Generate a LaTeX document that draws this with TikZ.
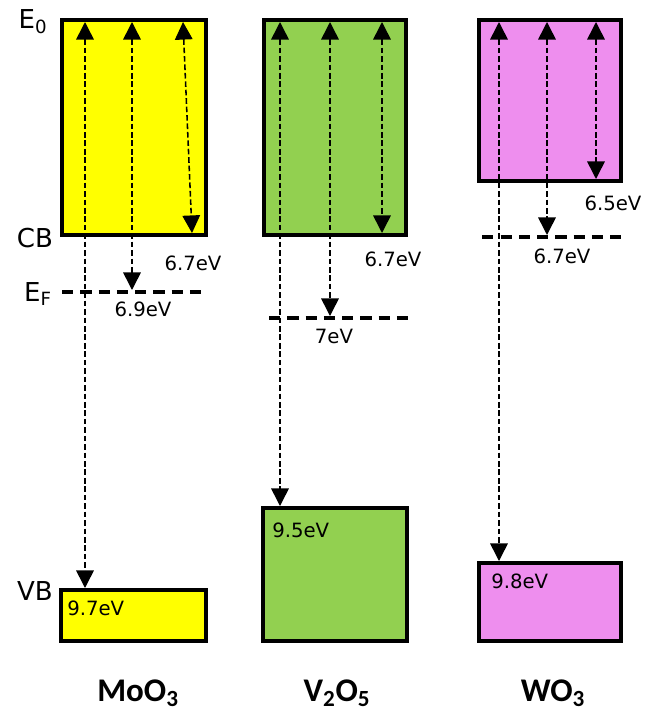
\documentclass[tikz,border=0pt]{standalone}
\usepackage{fontspec}
\setmainfont{DejaVu Sans}
\newfontfamily\oxfont{Carlito}
\usepackage{tikz}
\usetikzlibrary{arrows.meta, fit}
\definecolor{moyellow}{RGB}{255,255,0}
\definecolor{vogreen}{RGB}{146,208,80}
\definecolor{wopink}{RGB}{238,142,238}
\tikzset{
  band/.style={rectangle, draw=black, line width=3.3pt, inner sep=0pt},
  levelline/.style={line width=3.2pt, dash pattern=on 8pt off 5pt},
  transarrow/.style={{Triangle[width=12.5pt,length=12.5pt]}-{Triangle[width=12.5pt,length=12.5pt]},
    line width=1.1pt, dash pattern=on 4pt off 2pt},
  evlabel/.style={font=\fontsize{14}{16}\selectfont, inner sep=0pt},
  axlabel/.style={font=\fontsize{18.5}{21}\selectfont, inner sep=0pt},
  oxlabel/.style={font=\oxfont\bfseries\fontsize{23.5}{27}\selectfont, inner sep=0pt}
}

\begin{document}
\begin{tikzpicture}[x=0.025cm, y=-0.025cm]
  \useasboundingbox (0,0) rectangle (646,711);

  % conduction and valence bands
  \node[band, fill=moyellow, fit={(62,20) (206,235)}] (mocb) {};
  \node[band, fill=moyellow, fit={(61,590) (206,641)}] (movb) {};
  \node[band, fill=vogreen, fit={(264,20) (406,235)}] (vocb) {};
  \node[band, fill=vogreen, fit={(263,508) (407,641)}] (vovb) {};
  \node[band, fill=wopink, fit={(479,20) (621,181)}] (wocb) {};
  \node[band, fill=wopink, fit={(479,563) (621,641)}] (wovb) {};

  % Fermi levels
  \coordinate (moefl) at (62,292);
  \coordinate (moefr) at (208,292);
  \coordinate (voefl) at (269,318);
  \coordinate (voefr) at (410,318);
  \coordinate (woefl) at (478,237);
  \coordinate (woefr) at (623,237);
  \draw[levelline] (moefl) -- (moefr);
  \draw[levelline] (voefl) -- (voefr);
  \draw[levelline, dash phase=10pt] (woefl) -- (woefr);

  % arrow ends
  \coordinate (moa) at (85,22);  \coordinate (moab) at (85,588);
  \coordinate (mob) at (132,22); \coordinate (mobb) at (132,290);
  \coordinate (moc) at (183,22); \coordinate (mocc) at (192,233);
  \coordinate (voa) at (280,22); \coordinate (voab) at (280,506);
  \coordinate (vob) at (330,22); \coordinate (vobb) at (330,316);
  \coordinate (voc) at (382,22); \coordinate (vocc) at (382,233);
  \coordinate (woa) at (499,22); \coordinate (woab) at (499,561);
  \coordinate (wob) at (547,22); \coordinate (wobb) at (547,235);
  \coordinate (woc) at (596,22); \coordinate (wocc) at (596,179);

  \draw[transarrow] (moa) -- (moab);
  \draw[transarrow] (mob) -- (mobb);
  \draw[transarrow] (moc) -- (mocc);
  \draw[transarrow] (voa) -- (voab);
  \draw[transarrow] (vob) -- (vobb);
  \draw[transarrow] (voc) -- (vocc);
  \draw[transarrow] (woa) -- (woab);
  \draw[transarrow] (wob) -- (wobb);
  \draw[transarrow] (woc) -- (wocc);

  % level names
  \node[axlabel] (eo) at (33,22) {E\textsubscript{0}};
  \node[axlabel] (cb) at (35,238) {CB};
  \node[axlabel] (ef) at (38,294) {E\textsubscript{F}};
  \node[axlabel] (vb) at (35,591) {VB};

  % energies
  \node[evlabel] (moe1) at (193,263) {6.7eV};
  \node[evlabel] (moe2) at (143,309) {6.9eV};
  \node[evlabel, anchor=west] (moe3) at (67,608) {9.7eV};
  \node[evlabel] (voe1) at (393,259) {6.7eV};
  \node[evlabel] (voe2) at (334,336) {7eV};
  \node[evlabel, anchor=west] (voe3) at (272,530) {9.5eV};
  \node[evlabel] (woe1) at (613,203) {6.5eV};
  \node[evlabel] (woe2) at (562,256) {6.7eV};
  \node[evlabel, anchor=west] (woe3) at (491,581) {9.8eV};

  % oxides
  \node[oxlabel] (moo) at (138,693) {MoO\textsubscript{3}};
  \node[oxlabel] (voo) at (337,693) {V\textsubscript{2}O\textsubscript{5}};
  \node[oxlabel] (woo) at (553,693) {WO\textsubscript{3}};
\end{tikzpicture}
\end{document}
